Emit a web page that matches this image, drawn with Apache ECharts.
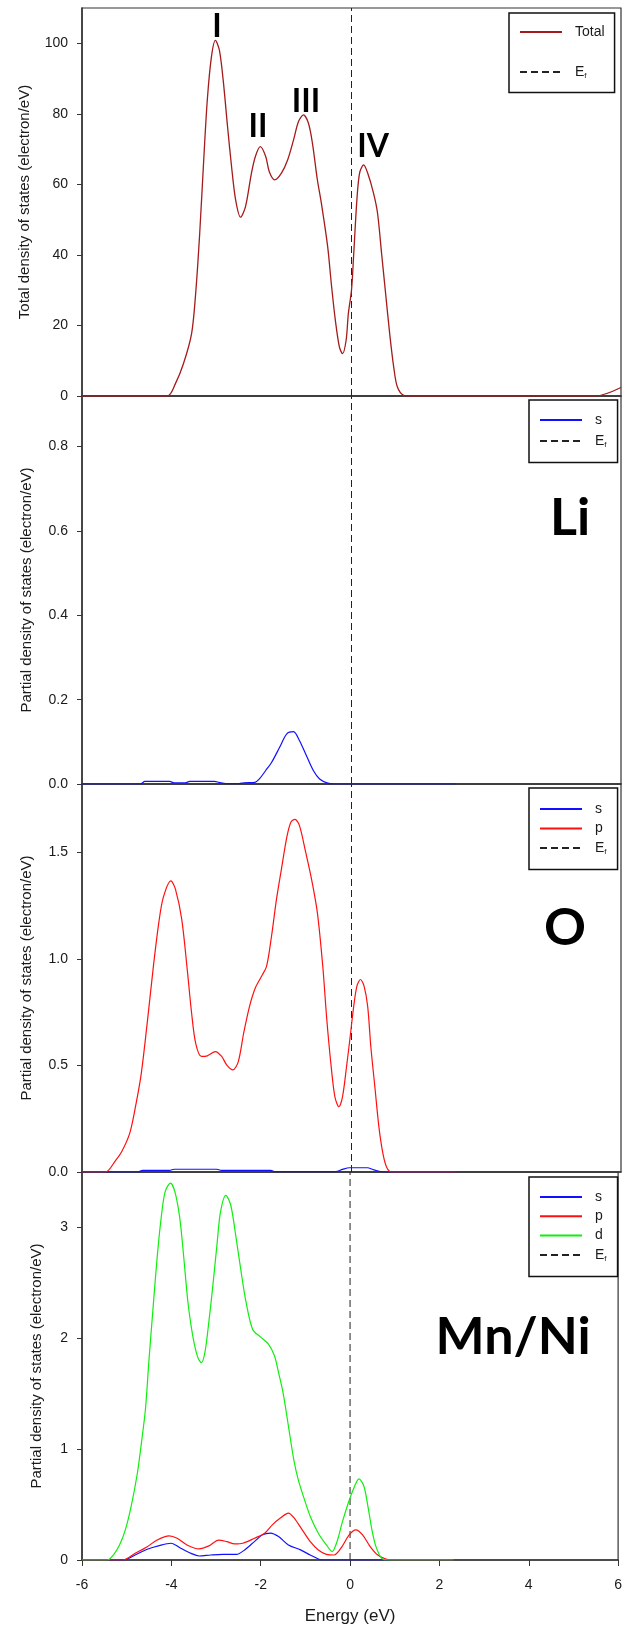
<!DOCTYPE html>
<html>
<head>
<meta charset="utf-8">
<title>DOS</title>
<script src="https://cdn.jsdelivr.net/npm/echarts@6.0.0/dist/echarts.min.js"></script>
<style>
    html, body { margin: 0; padding: 0; background: #fff; }
    #dos-chart { width: 625px; height: 1629px; }
</style>
</head>
<body>
<div id="dos-chart"></div>
<script>
// energies in eV, densities in electron/eV
const totalE = [-6, -4.1, -3.92, -3.74, -3.56, -3.47, -3.38, -3.29, -3.21, -3.12, -3.03, -2.94, -2.85, -2.76, -2.67, -2.58, -2.47, -2.36, -2.23, -2.14, -2.03, -1.91, -1.83, -1.71, -1.56, -1.42, -1.29, -1.18, -1.07, -0.96, -0.87, -0.76, -0.67, -0.53, -0.45, -0.36, -0.27, -0.2, -0.12, -0.07, 0, 0.05, 0.12, 0.18, 0.27, 0.36, 0.49, 0.58, 0.67, 0.76, 0.85, 0.94, 1.02, 1.16, 1.3, 5.43, 6];
const totalDos = [0, 0, 3.5, 9.2, 17.7, 29, 46, 67, 84, 96, 100.8, 98, 88.7, 76.4, 65, 55.6, 50.7, 53.7, 63, 67.9, 70.7, 67.9, 63.6, 61.3, 63.2, 67, 72.6, 77.8, 79.7, 77.4, 71.7, 61.3, 54.6, 42.3, 31.9, 21.5, 13.9, 12.0, 15.8, 23.4, 30, 40.4, 55.6, 63.2, 65.5, 63.2, 57.5, 51.8, 40.4, 29, 17.7, 8.2, 2.6, 0.2, 0, 0, 2.4];

const liSE = [-6, -4.7, -4.6, -4.05, -3.95, -3.7, -3.6, -3.05, -2.95, -2.8, -2.5, -2.4, -2.15, -2.05, -1.91, -1.78, -1.6, -1.44, -1.29, -1.16, -1.02, -0.85, -0.71, -0.53, -0.4, 2.32];
const liS = [0, 0, 0.006, 0.006, 0.003, 0.003, 0.006, 0.006, 0.004, 0.001, 0.001, 0.003, 0.004, 0.012, 0.032, 0.051, 0.087, 0.119, 0.124, 0.103, 0.071, 0.032, 0.012, 0.002, 0, 0];

const oSE = [-6, -4.75, -4.65, -4.05, -3.95, -3.0, -2.9, -1.8, -1.7, -0.35, -0.2, -0.05, 0.35, 0.5, 0.7, 2.32];
const oS = [0, 0, 0.008, 0.008, 0.013, 0.013, 0.008, 0.008, 0.002, 0.002, 0.012, 0.02, 0.02, 0.01, 0, 0];
const oPE = [-6, -5.48, -5.25, -5.12, -4.94, -4.81, -4.68, -4.54, -4.41, -4.29, -4.19, -4.02, -3.92, -3.78, -3.65, -3.56, -3.47, -3.34, -3.21, -3.03, -2.89, -2.78, -2.64, -2.52, -2.4, -2.27, -2.14, -2.0, -1.89, -1.78, -1.67, -1.56, -1.44, -1.35, -1.26, -1.16, -1.02, -0.89, -0.76, -0.64, -0.55, -0.46, -0.37, -0.28, -0.2, -0.11, -0.02, 0.04, 0.12, 0.2, 0.28, 0.36, 0.43, 0.52, 0.61, 0.7, 0.78, 0.89, 2.32];
const oP = [0, 0, 0.055, 0.094, 0.18, 0.306, 0.463, 0.715, 0.966, 1.17, 1.288, 1.366, 1.327, 1.186, 0.935, 0.746, 0.605, 0.542, 0.545, 0.565, 0.542, 0.503, 0.479, 0.518, 0.652, 0.777, 0.864, 0.919, 0.966, 1.107, 1.28, 1.421, 1.571, 1.641, 1.654, 1.626, 1.5, 1.374, 1.217, 0.966, 0.715, 0.51, 0.353, 0.306, 0.353, 0.495, 0.652, 0.762, 0.872, 0.903, 0.872, 0.777, 0.589, 0.4, 0.212, 0.086, 0.024, 0, 0];

const mnSE = [-6, -5.08, -4.81, -4.54, -4.27, -4.01, -3.79, -3.56, -3.38, -3.12, -2.85, -2.54, -2.36, -2.14, -1.96, -1.78, -1.6, -1.38, -1.11, -0.89, -0.71, -0.62, 2.32];
const mnS = [0, 0, 0.045, 0.097, 0.13, 0.151, 0.106, 0.06, 0.036, 0.045, 0.051, 0.051, 0.091, 0.166, 0.227, 0.242, 0.211, 0.136, 0.091, 0.045, 0.009, 0, 0];
const mnPE = [-6, -5.08, -4.81, -4.54, -4.32, -4.05, -3.87, -3.65, -3.38, -3.16, -2.94, -2.76, -2.58, -2.4, -2.14, -1.91, -1.74, -1.56, -1.38, -1.25, -1.07, -0.89, -0.71, -0.53, -0.36, -0.18, -0.02, 0.13, 0.28, 0.45, 0.62, 0.8, 0.94, 2.32];
const mnP = [0, 0, 0.06, 0.12, 0.18, 0.218, 0.196, 0.136, 0.1, 0.127, 0.18, 0.166, 0.145, 0.151, 0.196, 0.242, 0.317, 0.378, 0.423, 0.378, 0.272, 0.166, 0.091, 0.051, 0.045, 0.121, 0.227, 0.272, 0.227, 0.121, 0.045, 0.009, 0, 0];
const mnDE = [-6, -5.43, -5.3, -5.16, -5.03, -4.9, -4.76, -4.67, -4.58, -4.5, -4.41, -4.32, -4.23, -4.14, -4.02, -3.92, -3.81, -3.72, -3.63, -3.52, -3.41, -3.33, -3.25, -3.16, -3.07, -2.98, -2.9, -2.78, -2.67, -2.56, -2.45, -2.33, -2.18, -2.0, -1.83, -1.69, -1.6, -1.5, -1.38, -1.26, -1.16, -1.02, -0.89, -0.71, -0.53, -0.4, -0.28, -0.18, -0.04, 0.07, 0.2, 0.31, 0.4, 0.49, 0.58, 0.71, 0.85, 2.32];
const mnD = [0, 0, 0.045, 0.136, 0.272, 0.483, 0.785, 1.057, 1.36, 1.81, 2.27, 2.72, 3.08, 3.32, 3.4, 3.32, 3.08, 2.72, 2.33, 2.02, 1.83, 1.78, 1.87, 2.15, 2.48, 2.84, 3.14, 3.29, 3.2, 2.93, 2.63, 2.33, 2.08, 2.01, 1.95, 1.84, 1.69, 1.51, 1.21, 0.906, 0.725, 0.544, 0.393, 0.242, 0.136, 0.076, 0.181, 0.332, 0.514, 0.634, 0.731, 0.665, 0.483, 0.272, 0.121, 0.015, 0, 0];

const totalTicks = [0, 20, 40, 60, 80, 100];
const liTicks = [0, 0.2, 0.4, 0.6, 0.8];
const oTicks = [0, 0.5, 1.0, 1.5];
const mnTicks = [0, 1, 2, 3];
const fermiLevel = 0;

(function () {
    const font = 'Liberation Sans';
    const textColor = '#1a1a1a';
    const frameColor = '#333';

    function pairs(xs, ys) {
        return xs.map((x, i) => [x, ys[i]]);
    }

    function curve(name, grid, xs, ys, color, width) {
        return {
            name: name,
            type: 'line',
            xAxisIndex: grid,
            yAxisIndex: grid,
            data: pairs(xs, ys),
            smooth: 0.3,
            symbol: 'none',
            showSymbol: false,
            lineStyle: { color: color, width: width || 1.2 },
            itemStyle: { color: color },
            z: 3
        };
    }

    function fermi(grid, max) {
        return {
            name: 'Ef',
            type: 'line',
            xAxisIndex: grid,
            yAxisIndex: grid,
            data: [[fermiLevel, 0], [fermiLevel, max]],
            symbol: 'none',
            showSymbol: false,
            lineStyle: { color: '#222', width: 1, type: [7, 4] },
            itemStyle: { color: '#222' },
            z: 2
        };
    }

    function xAxis(grid, last) {
        return {
            type: 'value',
            gridIndex: grid,
            min: -6,
            max: 6,
            interval: 2,
            name: last ? 'Energy (eV)' : '',
            nameLocation: 'middle',
            nameGap: 48,
            nameTextStyle: { fontFamily: font, fontSize: 17, color: textColor },
            axisLine: { show: true, onZero: false, lineStyle: { color: frameColor, width: 1.5 } },
            axisTick: { show: last, inside: false, length: 6, lineStyle: { color: frameColor } },
            axisLabel: { show: last, margin: 18, fontFamily: font, fontSize: 14, color: textColor },
            splitLine: { show: false }
        };
    }

    function yAxis(grid, max, ticks, decimals, name, gap) {
        return {
            type: 'value',
            gridIndex: grid,
            min: 0,
            max: max,
            name: name,
            nameLocation: 'middle',
            nameGap: gap,
            nameTextStyle: { fontFamily: font, fontSize: 15, color: textColor },
            axisLine: { show: true, onZero: false, lineStyle: { color: frameColor, width: 1.5 } },
            axisTick: { show: true, length: 5, customValues: ticks, lineStyle: { color: frameColor } },
            axisLabel: {
                customValues: ticks,
                margin: 14,
                fontFamily: font,
                fontSize: 14,
                color: textColor,
                formatter: v => v.toFixed(decimals)
            },
            splitLine: { show: false }
        };
    }

    function legend(names, left, top, gap, padding) {
        return {
            data: names,
            orient: 'vertical',
            left: left,
            top: top,
            itemWidth: 42,
            itemHeight: 14,
            itemGap: gap,
            padding: padding,
            backgroundColor: '#fff',
            borderColor: '#111',
            borderWidth: 1.5,
            borderRadius: 0,
            selectedMode: false,
            itemStyle: { color: 'transparent', borderWidth: 0, opacity: 0 },
            formatter: name => name === 'Ef' ? '{e|E}{f|f}' : name,
            textStyle: {
                fontFamily: font,
                fontSize: 14,
                color: textColor,
                lineHeight: 14,
                padding: [0, 0, 0, 8],
                rich: {
                    e: { fontFamily: font, fontSize: 14, color: textColor },
                    f: { fontFamily: font, fontSize: 8, color: textColor, padding: [7, 0, 0, 0] }
                }
            }
        };
    }

    function bigText(text, x, y, size) {
        return {
            type: 'text',
            x: x,
            y: y,
            z: 10,
            style: {
                text: text,
                font: 'bold ' + size + 'px Lato',
                fill: '#000',
                align: 'center',
                verticalAlign: 'middle'
            }
        };
    }

    const chart = echarts.init(document.getElementById('dos-chart'), null, { renderer: 'canvas' });
    const maxes = [110, 0.92, 1.82, 3.5];
    const gridBox = { left: 82, right: 4, height: 388, show: true, borderColor: frameColor, borderWidth: 1.2 };

    const option = {
        animation: false,
        backgroundColor: '#fff',
        grid: [
            Object.assign({ top: 8 }, gridBox),
            Object.assign({ top: 396 }, gridBox),
            Object.assign({ top: 784 }, gridBox),
            Object.assign({ top: 1172 }, gridBox)
        ],
        xAxis: [xAxis(0, false), xAxis(1, false), xAxis(2, false), xAxis(3, true)],
        yAxis: [
            yAxis(0, maxes[0], totalTicks, 0, 'Total density of states (electron/eV)', 50),
            yAxis(1, maxes[1], liTicks, 1, 'Partial density of states (electron/eV)', 48),
            yAxis(2, maxes[2], oTicks, 1, 'Partial density of states (electron/eV)', 48),
            yAxis(3, maxes[3], mnTicks, 0, 'Partial density of states (electron/eV)', 38)
        ],
        legend: [
            legend(['Total', 'Ef'], 509, 13, 26, [12, 10, 13, 10]),
            legend(['s', 'Ef'], 529, 400, 7, [13, 11, 14, 10]),
            legend(['s', 'p', 'Ef'], 529, 788, 5.5, [14, 11, 14, 10]),
            legend(['s', 'p', 'd', 'Ef'], 529, 1177, 5.3, [13, 11, 14, 10])
        ],
        series: [
            fermi(0, maxes[0]),
            fermi(1, maxes[1]),
            fermi(2, maxes[2]),
            fermi(3, maxes[3]),
            curve('Total', 0, totalE, totalDos, '#a31b1b', 1.3),
            curve('s', 1, liSE, liS, '#1010ff'),
            curve('s', 2, oSE, oS, '#1010ff'),
            curve('p', 2, oPE, oP, '#ff1010'),
            curve('s', 3, mnSE, mnS, '#1010ff'),
            curve('p', 3, mnPE, mnP, '#ff1010'),
            curve('d', 3, mnDE, mnD, '#10ee10')
        ],
        graphic: [
            bigText('I', 217, 27, 32),
            bigText('II', 258, 127, 32),
            bigText('III', 306, 102, 32),
            bigText('IV', 373, 147, 32),
            bigText('Li', 570, 518, 52),
            bigText('O', 565, 928, 52),
            bigText('Mn/Ni', 513, 1337, 52)
        ]
    };

    chart.setOption(option);
    window.addEventListener('resize', function () {
        chart.resize();
    });
})();
</script>
</body>
</html>
